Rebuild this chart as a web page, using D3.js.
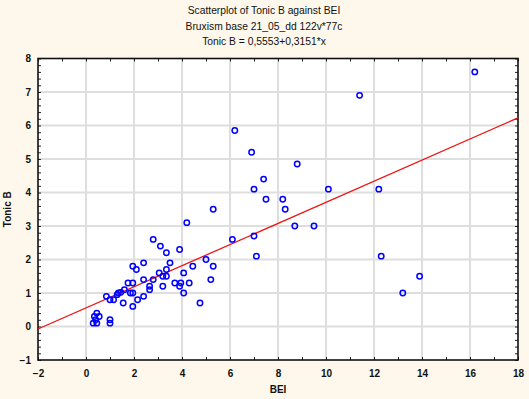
<!DOCTYPE html>
<html>
<head>
<meta charset="utf-8">
<script src="https://cdn.jsdelivr.net/npm/d3@7"></script>
<style>
  html, body { margin:0; padding:0; background:#fdf8eb; }
  svg { display:block; }
  text { font-family: "Liberation Sans", Arial, sans-serif; fill:#111; }
</style>
</head>
<body>
<div id="chart"></div>
<script>
// BEI vs Tonic B
const bei = [16.2, 11.4, 6.2, 6.9, 8.8, 7.4, 7.0, 10.1, 12.2, 7.5, 8.2, 8.3, 5.3, 4.2, 8.7, 9.5, 6.1, 7.0, 7.1, 12.3, 13.9, 13.2,
  2.8, 3.1, 3.9, 3.35, 3.5, 5.0, 4.45, 5.3, 3.35, 3.05, 4.07, 2.8, 3.2, 3.35, 5.2, 3.7, 3.95, 4.3, 3.2, 3.9, 4.07, 4.75,
  2.4, 1.95, 2.1, 2.4, 1.95, 1.75, 2.65, 2.65, 1.6, 1.35, 1.45, 1.3, 1.85, 1.95, 0.85, 1.0, 1.15, 1.55, 2.15, 2.4, 1.95,
  0.45, 0.35, 0.55, 0.3, 0.45, 1.0, 1.0, 0.4];
const tonicB = [7.6, 6.9, 5.85, 5.2, 4.85, 4.4, 4.1, 4.1, 4.1, 3.8, 3.8, 3.5, 3.5, 3.1, 3.0, 3.0, 2.6, 2.7, 2.1, 2.1, 1.5, 1.0,
  2.6, 2.4, 2.3, 2.2, 1.9, 2.0, 1.8, 1.8, 1.7, 1.6, 1.6, 1.4, 1.5, 1.5, 1.4, 1.3, 1.3, 1.3, 1.2, 1.2, 1.0, 0.7,
  1.9, 1.8, 1.7, 1.4, 1.3, 1.3, 1.2, 1.1, 1.1, 1.0, 1.02, 0.95, 1.0, 1.0, 0.9, 0.8, 0.8, 0.7, 0.8, 0.9, 0.6,
  0.4, 0.3, 0.3, 0.1, 0.1, 0.2, 0.1, 0.2];
const xTicks = [-2, 0, 2, 4, 6, 8, 10, 12, 14, 16, 18];
const yTicks = [-1, 0, 1, 2, 3, 4, 5, 6, 7, 8];
const fit = { a: 0.5553, b: 0.3151 };
const titles = ["Scatterplot of Tonic B against BEI", "Bruxism base 21_05_dd 122v*77c", "Tonic B = 0,5553+0,3151*x"];

function drawScatter(selector) {
  const W = 529, H = 399;
  const svg = d3.select(selector).append("svg").attr("width", W).attr("height", H);
  svg.append("rect").attr("width", W).attr("height", H).attr("fill", "#fdf8eb");

  const x = d3.scaleLinear().domain([-2, 18]).range([38, 518]);
  const y = d3.scaleLinear().domain([-1, 8]).range([360, 58.5]);

  // plot bg
  svg.append("rect").attr("x", x(-2)).attr("y", y(8)).attr("width", x(18) - x(-2)).attr("height", y(-1) - y(8)).attr("fill", "#fff");

  // grid
  svg.append("g").selectAll("line").data(xTicks.slice(1, -1)).enter().append("line")
    .attr("x1", d => x(d)).attr("x2", d => x(d)).attr("y1", y(8)).attr("y2", y(-1))
    .attr("stroke", "#dedede").attr("stroke-width", 2);
  svg.append("g").selectAll("line").data(yTicks.slice(1, -1)).enter().append("line")
    .attr("y1", d => y(d)).attr("y2", d => y(d)).attr("x1", x(-2)).attr("x2", x(18))
    .attr("stroke", "#dedede").attr("stroke-width", 2);

  // axes: labels outside, minor ticks inside
  const minorX = d3.range(-2, 18.01, 1);
  const minorY = d3.range(-1, 8.001, 0.2);
  const bottom = svg.append("g").attr("transform", `translate(0,${y(-1)})`)
    .call(d3.axisBottom(x).tickValues(xTicks).tickSize(0).tickPadding(10).tickFormat(d3.format("d")));
  const left = svg.append("g").attr("transform", `translate(${x(-2)},0)`)
    .call(d3.axisLeft(y).tickValues(yTicks).tickSize(0).tickPadding(7).tickFormat(d3.format("d")));
  [bottom, left].forEach(g => {
    g.select(".domain").remove();
    g.selectAll("text").attr("font-size", "10px").attr("font-weight", "bold")
      .attr("font-family", '"Liberation Sans", Arial, sans-serif').attr("fill", "#111");
  });
  svg.append("g").attr("transform", `translate(0,${y(-1)})`).call(d3.axisTop(x).tickValues(minorX).tickSize(3).tickFormat(""));
  svg.append("g").attr("transform", `translate(0,${y(8)})`).call(d3.axisBottom(x).tickValues(minorX).tickSize(3).tickFormat(""));
  svg.append("g").attr("transform", `translate(${x(-2)},0)`).call(d3.axisRight(y).tickValues(minorY).tickSize(3).tickFormat(""));
  svg.append("g").attr("transform", `translate(${x(18)},0)`).call(d3.axisLeft(y).tickValues(minorY).tickSize(3).tickFormat(""));
  svg.selectAll(".domain").remove();
  svg.selectAll(".tick line").attr("stroke", "#222");

  // frame
  svg.append("rect").attr("x", x(-2)).attr("y", y(8)).attr("width", x(18) - x(-2)).attr("height", y(-1) - y(8))
    .attr("fill", "none").attr("stroke", "#111").attr("stroke-width", 1.6);

  // fit line
  svg.append("line").attr("x1", x(-2)).attr("y1", y(fit.a + fit.b * -2)).attr("x2", x(18)).attr("y2", y(fit.a + fit.b * 18))
    .attr("stroke", "#ee1111").attr("stroke-width", 1.3);

  // points
  const pts = bei.map((b, i) => ({ b, t: tonicB[i] }));
  svg.append("g").selectAll("circle").data(pts).enter().append("circle")
    .attr("cx", d => x(d.b)).attr("cy", d => y(d.t)).attr("r", 2.7)
    .attr("fill", "none").attr("stroke", "#0000ff").attr("stroke-width", 1.5);

  // titles
  titles.forEach((t, i) => {
    svg.append("text").attr("x", 264).attr("y", 14 + i * 15.5).attr("text-anchor", "middle")
      .attr("font-size", "10.3px").text(t);
  });
  svg.append("text").attr("x", (x(-2) + x(18)) / 2).attr("y", 393).attr("text-anchor", "middle")
    .attr("font-size", "10px").attr("font-weight", "bold").text("BEI");
  svg.append("text").attr("transform", `translate(11,${(y(8) + y(-1)) / 2}) rotate(-90)`).attr("text-anchor", "middle")
    .attr("font-size", "10px").attr("font-weight", "bold").text("Tonic B");
}

drawScatter("#chart");
</script>
</body>
</html>
